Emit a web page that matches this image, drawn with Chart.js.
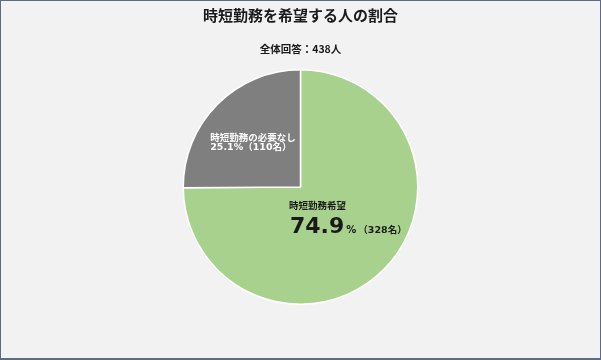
<!DOCTYPE html>
<html lang="ja">
<head>
<meta charset="utf-8">
<title>時短勤務を希望する人の割合</title>
<script src="https://cdn.jsdelivr.net/npm/chart.js@4.4.1/dist/chart.umd.min.js"></script>
<style>
  html, body { margin: 0; padding: 0; background: #f2f2f2; }
  #wrap { width: 601px; height: 360px; position: relative; }
  canvas { display: block; }
</style>
</head>
<body>
<div id="wrap"><canvas id="chart" width="601" height="360"></canvas></div>
<script>
// Survey: who wants reduced working hours
const titleText = '時短勤務を希望する人の割合';
const subtitleText = '全体回答：438人';
const categories = ['時短勤務希望', '時短勤務の必要なし'];
const shares = [74.9, 25.1];      // percent
const counts = [328, 110];        // respondents
const sliceColors = ['#a9d18e', '#7f7f7f'];

const JP = '"Noto Sans CJK JP", sans-serif';
const MIX = '"DejaVu Sans", "Noto Sans CJK JP", sans-serif';

// Page background and thin frame
const framePlugin = {
  id: 'frame',
  beforeDraw(chart) {
    const { ctx, width, height } = chart;
    ctx.save();
    ctx.fillStyle = '#f2f2f2';
    ctx.fillRect(0, 0, width, height);
    ctx.restore();
  },
  afterDraw(chart) {
    const { ctx, width, height } = chart;
    ctx.save();
    ctx.strokeStyle = '#5b6b84';
    ctx.lineWidth = 1;
    ctx.strokeRect(0.5, 0.5, width - 1, height - 1.5);
    ctx.fillStyle = '#5b6b84';
    ctx.fillRect(0, height - 2, width, 2);
    ctx.restore();
  }
};

// Labels placed inside each slice, relative to the arc geometry
const sliceLabels = {
  id: 'sliceLabels',
  afterDatasetsDraw(chart) {
    const { ctx } = chart;
    const arcs = chart.getDatasetMeta(0).data;
    const cx = arcs[0].x, cy = arcs[0].y, r = arcs[0].outerRadius;
    ctx.save();
    ctx.textAlign = 'left';

    // main slice
    let x = cx - 0.098 * r;
    ctx.fillStyle = '#1a1a1a';
    ctx.textBaseline = 'middle';
    ctx.font = 'bold 9.5px ' + JP;
    ctx.fillText(categories[0], x, cy + 0.16 * r);

    ctx.textBaseline = 'alphabetic';
    const base = cy + 0.393 * r;
    ctx.font = 'bold 22px ' + MIX;
    const big = shares[0].toFixed(1);
    ctx.fillText(big, x + 1, base);
    x += ctx.measureText(big).width + 3;
    ctx.font = 'bold 10px ' + MIX;
    ctx.fillText('%', x, base);
    x += ctx.measureText('%').width + 2;
    ctx.font = 'bold 9.5px ' + MIX;
    ctx.fillText('（' + counts[0] + '名）', x, base);

    // second slice
    ctx.fillStyle = '#ffffff';
    ctx.textBaseline = 'middle';
    const gx = cx - 0.77 * r;
    ctx.font = 'bold 9.5px ' + JP;
    ctx.fillText(categories[1], gx, cy - 0.427 * r);
    ctx.font = 'bold 9.5px ' + MIX;
    ctx.fillText(shares[1].toFixed(1) + '%（' + counts[1] + '名）', gx, cy - 0.333 * r);
    ctx.restore();
  }
};

new Chart(document.getElementById('chart'), {
  type: 'pie',
  data: {
    labels: categories,
    datasets: [{
      data: shares,
      backgroundColor: sliceColors,
      borderColor: '#ffffff',
      borderWidth: 1.5
    }]
  },
  options: {
    responsive: false,
    animation: false,
    devicePixelRatio: 1,
    rotation: 0,
    layout: { padding: { top: 0, bottom: 55, left: 100, right: 100 } },
    plugins: {
      legend: { display: false },
      tooltip: { enabled: false },
      title: {
        display: true,
        text: titleText,
        color: '#1a1a1a',
        font: { family: JP, size: 15, weight: 'bold', lineHeight: 1.2 },
        padding: { top: 6, bottom: 0 }
      },
      subtitle: {
        display: true,
        text: subtitleText,
        color: '#1a1a1a',
        font: { family: JP, size: 10.5, weight: 'bold', lineHeight: 1.2 },
        padding: { top: 18.7, bottom: 13.7 }
      }
    }
  },
  plugins: [framePlugin, sliceLabels]
});
</script>
</body>
</html>
